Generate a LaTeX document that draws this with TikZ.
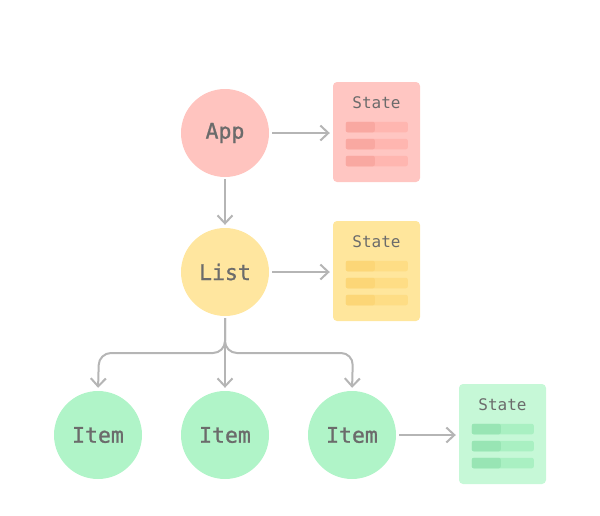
\documentclass[tikz,border=0pt]{standalone}
\usepackage{fontspec}
\setmonofont{DejaVu Sans Mono}
\newfontfamily\labfont[FakeBold=1.0]{DejaVu Sans Mono}
\usetikzlibrary{arrows.meta}
\definecolor{txt}{HTML}{6B6B6B}
\definecolor{arr}{HTML}{B5B5B5}
\definecolor{redc}{HTML}{FFC4BF}
\definecolor{redbox}{HTML}{FFC6C2}
\definecolor{redbar}{HTML}{FFB6B0}
\definecolor{reddark}{HTML}{F9A8A1}
\definecolor{yelc}{HTML}{FFE69F}
\definecolor{yelbox}{HTML}{FFE69C}
\definecolor{yelbar}{HTML}{FEDD85}
\definecolor{yeldark}{HTML}{FCD677}
\definecolor{grnc}{HTML}{B0F4C8}
\definecolor{grnbox}{HTML}{C6F8D7}
\definecolor{grnbar}{HTML}{A9F0C2}
\definecolor{grndark}{HTML}{98E5B4}
\tikzset{
  comp/.style={circle, minimum size=88pt, inner sep=0pt, font=\labfont\fontsize{21.5}{24}\selectfont, text=txt},
  statebox/.style={rectangle, rounded corners=4pt, minimum width=87pt, minimum height=100pt, inner sep=0pt},
  conn/.style={draw=arr, line width=2pt, -{Straight Barb[length=8pt,width=15pt,line width=2pt]}},
  statetxt/.style={font=\ttfamily\fontsize{16}{19}\selectfont, text=txt, inner sep=0pt}
}
\newcommand{\mkstate}[5]{%
  \node[statebox, fill=#3] (#1) at (#2) {};
  \node[statetxt] (#1t) at ([yshift=-21pt]#1.north) {State};
  \foreach \yy in {40,57,74}{
    \fill[#4, rounded corners=2pt] ([xshift=13pt,yshift=-\yy pt]#1.north west) rectangle ([xshift=75pt,yshift=-\yy pt-10.5pt]#1.north west);
    \fill[#5, rounded corners=2pt] ([xshift=13pt,yshift=-\yy pt]#1.north west) rectangle ([xshift=42pt,yshift=-\yy pt-10.5pt]#1.north west);
  }
}
\begin{document}
\begin{tikzpicture}[x=1pt,y=1pt]
\useasboundingbox (0,0) rectangle (600,-515);
\node[comp, fill=redc] (app) at (225,-133) {App};
\node[comp, fill=yelc] (list) at (225,-272) {List};
\node[comp, fill=grnc] (item1) at (98,-435) {Item};
\node[comp, fill=grnc] (item2) at (225,-435) {Item};
\node[comp, fill=grnc] (item3) at (352,-435) {Item};
\mkstate{sapp}{376.5,-132}{redbox}{redbar}{reddark}
\mkstate{slist}{376.5,-271}{yelbox}{yelbar}{yeldark}
\mkstate{sitem}{502.5,-434}{grnbox}{grnbar}{grndark}
\coordinate (fork) at (225,-353);
\coordinate (forkl) at (99,-353);
\coordinate (forkr) at (353,-353);
\draw[conn, shorten <=3pt, shorten >=3pt] (app.east) -- (sapp.west |- app.east);
\draw[conn, shorten <=3pt, shorten >=3pt] (list.east) -- (slist.west |- list.east);
\draw[conn, shorten <=3pt, shorten >=3pt] (item3.east) -- (sitem.west |- item3.east);
\draw[conn, shorten <=2pt, shorten >=3pt] (app.south) -- (list.north);
\draw[conn, shorten <=2pt, shorten >=3pt] (list.south) -- (item2.north);
\draw[conn, rounded corners=12pt, shorten <=2pt, shorten >=3pt] (list.south) -- (fork) -- (forkl) -- (item1.north);
\draw[conn, rounded corners=12pt, shorten <=2pt, shorten >=3pt] (list.south) -- (fork) -- (forkr) -- (item3.north);
\end{tikzpicture}
\end{document}
